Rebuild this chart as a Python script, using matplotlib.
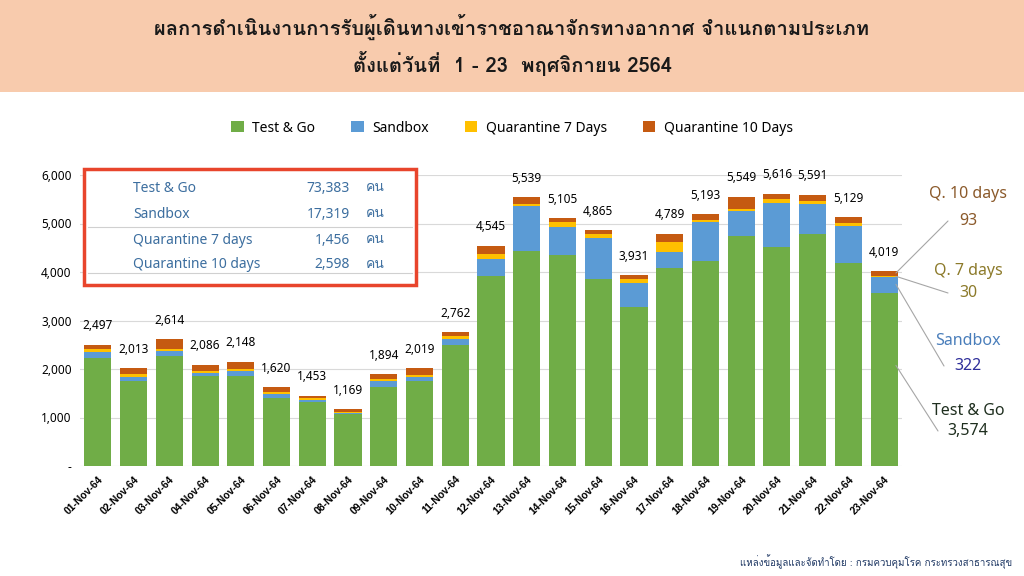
import matplotlib
matplotlib.use('Agg')
import matplotlib.pyplot as plt
from matplotlib import font_manager, ft2font
from matplotlib.patches import Rectangle
from matplotlib.lines import Line2D
import numpy as np

# data
days = ['01-Nov-64', '02-Nov-64', '03-Nov-64', '04-Nov-64', '05-Nov-64', '06-Nov-64',
        '07-Nov-64', '08-Nov-64', '09-Nov-64', '10-Nov-64', '11-Nov-64', '12-Nov-64',
        '13-Nov-64', '14-Nov-64', '15-Nov-64', '16-Nov-64', '17-Nov-64', '18-Nov-64',
        '19-Nov-64', '20-Nov-64', '21-Nov-64', '22-Nov-64', '23-Nov-64']
test_go = [2234, 1758, 2262, 1851, 1858, 1407, 1329, 1065, 1625, 1750, 2486, 3910,
           4429, 4359, 3865, 3276, 4079, 4235, 4742, 4512, 4777, 4178, 3574]
sandbox = [111, 76, 104, 69, 110, 69, 42, 28, 124, 83, 124, 366,
           931, 579, 828, 496, 324, 786, 524, 911, 635, 772, 322]
quar7 = [69, 69, 41, 49, 42, 41, 27, 27, 48, 41, 69, 103,
         41, 83, 82, 90, 207, 48, 35, 82, 55, 55, 30]
quar10 = [83, 110, 207, 117, 138, 104, 55, 49, 97, 145, 83, 166,
          138, 84, 90, 69, 179, 124, 248, 111, 124, 124, 93]
totals = [2497, 2013, 2614, 2086, 2148, 1620, 1453, 1169, 1894, 2019, 2762, 4545,
          5539, 5105, 4865, 3931, 4789, 5193, 5549, 5616, 5591, 5129, 4019]

box_names = ['Test & Go', 'Sandbox', 'Quarantine 7 days', 'Quarantine 10 days']
box_values = [73383, 17319, 1456, 2598]

series_names = ['Test & Go', 'Sandbox', 'Quarantine 7 Days', 'Quarantine 10 Days']
colors = ['#70AD47', '#5B9BD5', '#FFC000', '#C55A11']

title1 = 'ผลการดำเนินงานการรับผู้เดินทางเข้าราชอาณาจักรทางอากาศ จำแนกตามประเภท'
title2 = 'ตั้งแต่วันที่  1 - 23  พฤศจิกายน 2564'
source = 'แหล่งข้อมูลและจัดทำโดย : กรมควบคุมโรค กระทรวงสาธารณสุข'


def find_thai_font():
    # look for any installed font that has Thai glyphs
    for f in font_manager.fontManager.ttflist:
        try:
            if 0x0E01 in ft2font.FT2Font(f.fname).get_charmap():
                return f.name
        except Exception:
            pass
    return 'DejaVu Sans'


thai = find_thai_font()
plt.rcParams['font.family'] = ['Noto Sans', thai, 'DejaVu Sans']

fig = plt.figure(figsize=(10.24, 5.76), dpi=100)
fig.patch.set_facecolor('white')

# title band
fig.patches.append(Rectangle((0, 1 - 92 / 576), 1, 92 / 576, transform=fig.transFigure,
                             facecolor='#F8CBAD', edgecolor='none', zorder=0))
fig.text(0.5, 1 - 27 / 576, title1, ha='center', va='center', fontsize=14.5,
         fontweight='bold', family=[thai, 'DejaVu Sans'], color='#1a1a1a')
fig.text(0.5, 1 - 64 / 576, title2, ha='center', va='center', fontsize=14.5,
         fontweight='bold', family=[thai, 'DejaVu Sans'], color='#1a1a1a')

ax = fig.add_axes([80 / 1024, 110 / 576, 822 / 1024, 291 / 576])
x = np.arange(len(days))
w = 0.76
bottom = np.zeros(len(days))
handles = []
for vals, c, name in zip([test_go, sandbox, quar7, quar10], colors, series_names):
    b = ax.bar(x, vals, w, bottom=bottom, color=c, label=name, zorder=3)
    handles.append(b)
    bottom += np.array(vals)

for i, t in enumerate(totals):
    ax.annotate('{:,}'.format(t), xy=(x[i], bottom[i]), xytext=(0, 9),
                textcoords='offset points', ha='center', va='bottom', fontsize=8.5)

ax.set_xlim(-0.5, len(days) - 0.5)
ax.set_ylim(0, 6000)
ax.set_yticks(range(0, 6001, 1000))
ax.set_yticklabels(['-'] + ['{:,}'.format(v) for v in range(1000, 6001, 1000)], fontsize=8.5)
ax.yaxis.grid(True, color='#D9D9D9', lw=0.8, zorder=0)
ax.set_xticks(x)
ax.set_xticklabels(days, rotation=45, ha='right', rotation_mode='anchor',
                   fontsize=7.5, fontweight='bold', family='Liberation Sans')
ax.tick_params(length=0, pad=6)
for s in ax.spines.values():
    s.set_visible(False)

fig.legend(handles=handles, loc='center', bbox_to_anchor=(0.5, 1 - 128 / 576), ncol=4,
           frameon=False, fontsize=10, handlelength=0.9, handleheight=0.9,
           columnspacing=2.6, handletextpad=0.6)

# info box
fig.patches.append(Rectangle((84 / 1024, 1 - 285 / 576), 332 / 1024, 116 / 576,
                             transform=fig.transFigure, facecolor='white',
                             edgecolor='#E8452C', lw=2.5, zorder=5))
row_y = [188, 214, 240, 265]
for i, (n, v) in enumerate(zip(box_names, box_values)):
    fy = 1 - row_y[i] / 576
    fig.text(133 / 1024, fy, n, ha='left', va='center', fontsize=10, color='#3C6E9F', zorder=6)
    fig.text(350 / 1024, fy, '{:,}'.format(v), ha='right', va='center', fontsize=10,
             color='#3C6E9F', zorder=6)
    fig.text(366 / 1024, fy, 'คน', ha='left', va='center', fontsize=10,
             color='#3C6E9F', family=[thai, 'DejaVu Sans'], zorder=6)
for ly in [227, 273]:
    fig.lines.append(Line2D([88 / 1024, 412 / 1024], [1 - ly / 576] * 2,
                            transform=fig.transFigure, color='#D0D0D0', lw=0.8, zorder=6))

# callouts for the last day
last = len(days) - 1
cum = np.cumsum([test_go[last], sandbox[last], quar7[last], quar10[last]])
callouts = [
    ('Q. 10 days', '{:,}'.format(quar10[last]), '#8B5A2B', '#8B5A2B', 194, 221, cum[3] - 40, 948),
    ('Q. 7 days', '{:,}'.format(quar7[last]), '#8C7A2A', '#8C7A2A', 271, 293, cum[2] - 15, 948),
    ('Sandbox', '{:,}'.format(sandbox[last]), '#4A7EBB', '#2E2E9A', 341, 366, cum[1] - 150, 944),
    ('Test & Go', '{:,}'.format(test_go[last]), '#1F2F1F', '#1F2F1F', 411, 431, cum[0] - 1500, 938),
]
for name, val, c1, c2, y1, y2, yv, xl in callouts:
    fig.text(968 / 1024, 1 - y1 / 576, name, ha='center', va='center', fontsize=11.5, color=c1)
    fig.text(968 / 1024, 1 - y2 / 576, val, ha='center', va='center', fontsize=11.5, color=c2)
    ax.annotate('', xy=(last + w / 2 - 0.05, yv), xycoords='data',
                xytext=(xl / 1024, 1 - y2 / 576), textcoords='figure fraction',
                arrowprops=dict(arrowstyle='-', color='#A6A6A6', lw=0.8,
                                shrinkA=0, shrinkB=0), annotation_clip=False)

fig.text(1012 / 1024, 1 - 562 / 576, source, ha='right', va='center', fontsize=7,
         color='#1F3864', family=[thai, 'DejaVu Sans'])

fig.savefig('out.png', dpi=100)
